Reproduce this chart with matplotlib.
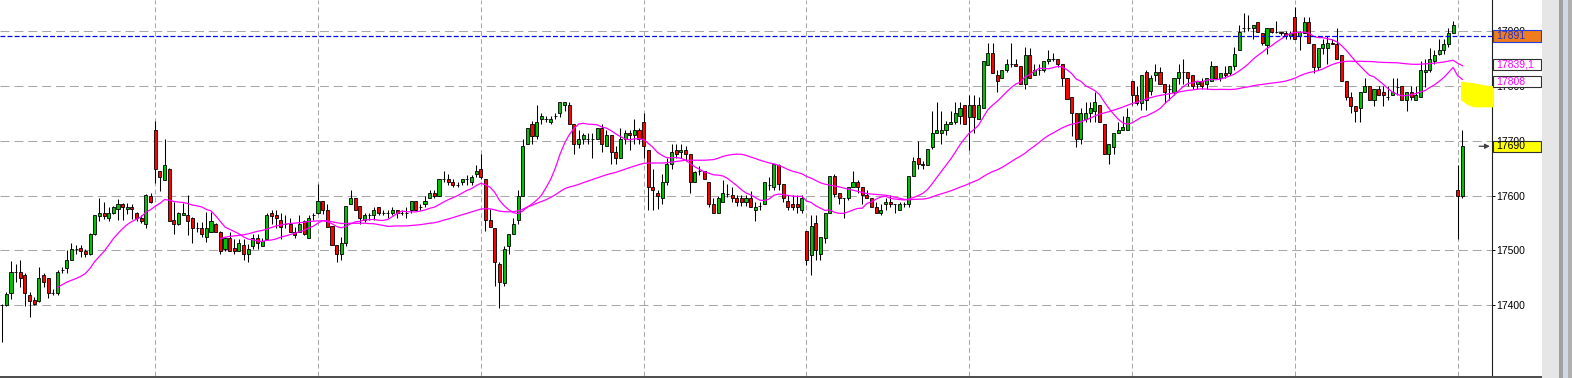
import numpy as np
import pandas as pd
import matplotlib
matplotlib.use("Agg")
import matplotlib.pyplot as plt
import matplotlib.transforms as mtransforms
from matplotlib.patches import Rectangle, Polygon

plt.rcParams['font.family'] = ['Liberation Sans', 'DejaVu Sans']
plt.rcParams['lines.scale_dashes'] = False

# OHLC candles (oldest first)
opens = [
    17400, 17400, 17423, 17460, 17460, 17455, 17419, 17409, 17408, 17455,
    17449, 17423, 17423, 17464, 17468, 17483, 17503, 17505, 17499, 17493,
    17529, 17563, 17569, 17560, 17569, 17575, 17584, 17575, 17579, 17569,
    17560, 17549, 17599, 17719, 17644, 17629, 17649, 17555, 17549, 17564,
    17564, 17560, 17540, 17540, 17524, 17534, 17549, 17534, 17503, 17523,
    17505, 17499, 17509, 17494, 17508, 17523, 17508, 17520, 17569, 17564,
    17555, 17548, 17549, 17534, 17534, 17554, 17523, 17564, 17569, 17590,
    17574, 17544, 17509, 17494, 17514, 17584, 17595, 17581, 17555, 17564,
    17564, 17579, 17569, 17569, 17569, 17574, 17569, 17569, 17574, 17590,
    17579, 17584, 17595, 17604, 17600, 17630, 17630, 17625, 17620, 17625,
    17630, 17625, 17639, 17649, 17630, 17555, 17540, 17475, 17440, 17508,
    17529, 17555, 17599, 17695, 17730, 17709, 17739, 17739, 17735, 17745,
    17750, 17765, 17765, 17730, 17695, 17704, 17704, 17704, 17704, 17724,
    17690, 17710, 17680, 17669, 17704, 17714, 17710, 17719, 17735, 17684,
    17615, 17604, 17595, 17625, 17658, 17684, 17680, 17684, 17675, 17624,
    17645, 17645, 17624, 17584, 17569, 17588, 17602, 17601, 17595, 17595,
    17588, 17595, 17574, 17581, 17584, 17620, 17616, 17655, 17621, 17590,
    17584, 17584, 17574, 17535, 17491, 17550, 17494, 17523, 17569, 17635,
    17605, 17595, 17595, 17615, 17624, 17615, 17601, 17595, 17579, 17569,
    17584, 17588, 17584, 17574, 17584, 17584, 17635, 17669, 17658, 17655,
    17689, 17715, 17715, 17719, 17730, 17735, 17745, 17765, 17744, 17765,
    17739, 17759, 17838, 17860, 17820, 17814, 17830, 17840, 17840, 17836,
    17804, 17856, 17820, 17830, 17830, 17845, 17850, 17850, 17840, 17815,
    17779, 17750, 17704, 17740, 17750, 17755, 17765, 17730, 17675, 17689,
    17714, 17719, 17719, 17810, 17784, 17769, 17825, 17790, 17820, 17826,
    17804, 17795, 17789, 17815, 17826, 17826, 17820, 17804, 17810, 17804,
    17810, 17836, 17815, 17824, 17824, 17836, 17865, 17905, 17905, 17905,
    17916, 17896, 17875, 17905, 17899, 17899, 17896, 17891, 17925, 17891,
    17896, 17916, 17876, 17835, 17870, 17870, 17879, 17876, 17856, 17810,
    17779, 17764, 17759, 17789, 17800, 17774, 17795, 17789, 17779, 17784,
    17799, 17800, 17774, 17789, 17774, 17779, 17826, 17830, 17845, 17859,
    17865, 17876, 17896, 17610, 17599,
]
highs = [
    17402, 17424, 17480, 17476, 17483, 17458, 17424, 17415, 17470, 17458,
    17450, 17430, 17464, 17470, 17500, 17513, 17509, 17510, 17503, 17531,
    17565, 17595, 17589, 17579, 17581, 17593, 17586, 17586, 17584, 17570,
    17564, 17602, 17604, 17736, 17645, 17704, 17650, 17589, 17570, 17586,
    17601, 17561, 17552, 17552, 17570, 17570, 17550, 17535, 17524, 17534,
    17520, 17520, 17520, 17512, 17529, 17529, 17523, 17569, 17574, 17574,
    17569, 17564, 17560, 17543, 17564, 17555, 17564, 17569, 17621, 17590,
    17584, 17544, 17509, 17525, 17581, 17610, 17595, 17581, 17569, 17569,
    17579, 17579, 17574, 17574, 17579, 17574, 17574, 17579, 17590, 17590,
    17584, 17599, 17610, 17610, 17630, 17645, 17639, 17630, 17625, 17630,
    17637, 17637, 17655, 17675, 17630, 17576, 17540, 17479, 17508, 17529,
    17560, 17610, 17704, 17724, 17737, 17765, 17751, 17745, 17745, 17751,
    17770, 17770, 17770, 17730, 17719, 17714, 17714, 17714, 17724, 17731,
    17719, 17710, 17690, 17724, 17719, 17719, 17739, 17724, 17751, 17684,
    17649, 17610, 17639, 17669, 17695, 17695, 17695, 17690, 17675, 17645,
    17654, 17645, 17624, 17595, 17600, 17629, 17622, 17616, 17601, 17601,
    17601, 17608, 17588, 17588, 17624, 17634, 17658, 17658, 17621, 17601,
    17601, 17601, 17601, 17535, 17564, 17564, 17525, 17569, 17635, 17640,
    17605, 17595, 17615, 17645, 17628, 17615, 17610, 17595, 17588, 17584,
    17595, 17601, 17584, 17588, 17588, 17635, 17670, 17699, 17663, 17685,
    17754, 17771, 17754, 17737, 17754, 17771, 17771, 17765, 17784, 17784,
    17780, 17845, 17879, 17879, 17830, 17830, 17850, 17879, 17850, 17836,
    17871, 17870, 17840, 17840, 17845, 17865, 17860, 17850, 17840, 17815,
    17779, 17750, 17760, 17771, 17771, 17789, 17765, 17730, 17695, 17715,
    17734, 17745, 17759, 17810, 17800, 17820, 17830, 17820, 17840, 17835,
    17804, 17804, 17815, 17840, 17850, 17826, 17820, 17810, 17815, 17815,
    17845, 17836, 17824, 17836, 17836, 17871, 17911, 17934, 17930, 17911,
    17916, 17896, 17905, 17905, 17919, 17899, 17900, 17900, 17945, 17900,
    17925, 17925, 17876, 17870, 17885, 17891, 17885, 17905, 17856, 17810,
    17789, 17764, 17789, 17815, 17800, 17795, 17800, 17800, 17800, 17815,
    17815, 17800, 17789, 17800, 17800, 17845, 17850, 17870, 17865, 17885,
    17885, 17905, 17919, 17655, 17719,
]
lows = [
    17333, 17398, 17412, 17443, 17433, 17399, 17379, 17400, 17405, 17433,
    17414, 17419, 17418, 17458, 17459, 17482, 17493, 17488, 17488, 17491,
    17528, 17554, 17557, 17554, 17567, 17555, 17555, 17567, 17557, 17554,
    17550, 17540, 17587, 17623, 17609, 17628, 17553, 17530, 17546, 17564,
    17528, 17514, 17534, 17525, 17516, 17533, 17533, 17493, 17499, 17498,
    17493, 17499, 17482, 17479, 17503, 17503, 17508, 17520, 17549, 17540,
    17520, 17540, 17534, 17523, 17534, 17528, 17523, 17555, 17567, 17567,
    17543, 17509, 17479, 17482, 17508, 17584, 17574, 17549, 17552, 17555,
    17555, 17564, 17564, 17560, 17564, 17560, 17564, 17560, 17569, 17574,
    17574, 17579, 17595, 17595, 17600, 17625, 17620, 17616, 17615, 17620,
    17620, 17620, 17634, 17630, 17536, 17543, 17435, 17394, 17435, 17494,
    17529, 17549, 17599, 17695, 17695, 17704, 17731, 17734, 17730, 17739,
    17744, 17754, 17730, 17675, 17686, 17695, 17695, 17669, 17704, 17680,
    17690, 17658, 17658, 17669, 17695, 17684, 17695, 17695, 17669, 17574,
    17574, 17576, 17585, 17620, 17649, 17669, 17669, 17664, 17604, 17624,
    17637, 17630, 17580, 17569, 17569, 17588, 17598, 17588, 17581, 17581,
    17581, 17579, 17554, 17574, 17584, 17610, 17610, 17610, 17588, 17574,
    17574, 17569, 17569, 17473, 17455, 17482, 17482, 17514, 17569, 17598,
    17584, 17560, 17592, 17615, 17604, 17584, 17595, 17579, 17569, 17564,
    17574, 17579, 17569, 17574, 17579, 17579, 17635, 17649, 17649, 17655,
    17685, 17715, 17695, 17710, 17730, 17730, 17730, 17730, 17684, 17714,
    17739, 17759, 17838, 17824, 17789, 17814, 17826, 17835, 17836, 17804,
    17795, 17814, 17820, 17820, 17826, 17840, 17845, 17835, 17800, 17776,
    17708, 17689, 17694, 17735, 17735, 17735, 17735, 17675, 17658, 17675,
    17714, 17719, 17719, 17765, 17765, 17756, 17756, 17784, 17810, 17804,
    17769, 17774, 17784, 17804, 17804, 17800, 17795, 17795, 17795, 17795,
    17810, 17815, 17810, 17815, 17820, 17829, 17865, 17899, 17900, 17885,
    17899, 17874, 17859, 17896, 17896, 17893, 17885, 17885, 17885, 17865,
    17896, 17879, 17824, 17830, 17859, 17840, 17876, 17850, 17810, 17774,
    17750, 17735, 17735, 17789, 17774, 17764, 17784, 17764, 17774, 17784,
    17784, 17774, 17755, 17774, 17774, 17779, 17798, 17826, 17840, 17856,
    17859, 17871, 17896, 17520, 17595,
]
closes = [
    17400, 17420, 17460, 17460, 17449, 17423, 17408, 17403, 17449, 17443,
    17423, 17423, 17460, 17464, 17483, 17503, 17503, 17499, 17493, 17530,
    17564, 17569, 17563, 17569, 17579, 17584, 17579, 17579, 17575, 17560,
    17554, 17601, 17588, 17649, 17634, 17655, 17554, 17549, 17569, 17569,
    17554, 17540, 17540, 17529, 17540, 17554, 17534, 17499, 17523, 17499,
    17499, 17514, 17494, 17503, 17523, 17514, 17517, 17564, 17563, 17560,
    17543, 17548, 17534, 17528, 17548, 17530, 17560, 17565, 17590, 17574,
    17543, 17509, 17494, 17514, 17581, 17595, 17574, 17560, 17564, 17564,
    17574, 17569, 17569, 17569, 17574, 17569, 17569, 17569, 17590, 17574,
    17579, 17590, 17604, 17600, 17630, 17630, 17625, 17620, 17620, 17630,
    17630, 17634, 17645, 17634, 17555, 17543, 17479, 17443, 17503, 17529,
    17549, 17599, 17690, 17724, 17709, 17735, 17745, 17739, 17739, 17745,
    17770, 17770, 17730, 17695, 17704, 17710, 17704, 17704, 17724, 17695,
    17710, 17680, 17669, 17704, 17714, 17710, 17719, 17704, 17690, 17615,
    17610, 17600, 17625, 17658, 17680, 17675, 17684, 17675, 17624, 17643,
    17645, 17630, 17584, 17569, 17595, 17604, 17602, 17595, 17588, 17588,
    17595, 17579, 17580, 17581, 17624, 17620, 17658, 17621, 17595, 17579,
    17579, 17579, 17595, 17482, 17544, 17500, 17525, 17569, 17635, 17602,
    17595, 17595, 17615, 17624, 17615, 17601, 17595, 17579, 17569, 17574,
    17588, 17584, 17584, 17584, 17584, 17635, 17663, 17658, 17655, 17685,
    17715, 17719, 17719, 17730, 17735, 17750, 17759, 17730, 17765, 17744,
    17765, 17845, 17860, 17824, 17809, 17830, 17840, 17840, 17836, 17804,
    17856, 17814, 17830, 17830, 17845, 17850, 17850, 17840, 17815, 17776,
    17750, 17704, 17750, 17750, 17759, 17771, 17735, 17675, 17695, 17715,
    17719, 17725, 17744, 17784, 17769, 17820, 17774, 17815, 17826, 17804,
    17789, 17795, 17815, 17826, 17826, 17815, 17800, 17810, 17800, 17815,
    17836, 17815, 17824, 17820, 17836, 17859, 17899, 17905, 17905, 17911,
    17899, 17879, 17905, 17899, 17899, 17896, 17891, 17896, 17885, 17899,
    17916, 17879, 17835, 17870, 17876, 17879, 17876, 17850, 17810, 17779,
    17764, 17755, 17789, 17800, 17774, 17795, 17784, 17784, 17779, 17789,
    17799, 17774, 17789, 17780, 17784, 17830, 17830, 17850, 17856, 17865,
    17876, 17896, 17911, 17599, 17690,
]

short_period = 13
long_period = 48
session_starts = [33, 68, 103, 138, 173, 208, 243, 278, 313]   # vertical grid
price_ticks = [17400, 17500, 17600, 17700, 17800, 17900]
ref_level = 17891
marker_values = [17891, 17839.1, 17808, 17690]
marker_texts = ["17891", "17839,1", "17808", "17690"]
marker_faces = ['#f07c20', 'white', 'white', '#ffff00']
marker_edges = ['#2040e0', '#303030', '#303030', '#303030']
marker_text_colors = ['#2030c8', '#ff00ff', '#ff00ff', 'black']
# yellow highlight next to the price axis (bar index, price)
highlight_shape = [(313.7, 17808), (316.5, 17805), (319.6, 17800), (320.8, 17800),
                   (320.8, 17761), (316.5, 17761), (315.2, 17765), (313.7, 17774)]

W, H = 1572, 378
fig = plt.figure(figsize=(W / 100, H / 100), dpi=100)
ax = fig.add_axes([0, 2 / H, 1491.7 / W, 376 / H])

o = np.array(opens, float)
h = np.array(highs, float)
l = np.array(lows, float)
c = np.array(closes, float)
x = np.arange(len(c))

# candles
ax.vlines(x, l, h, colors='black', linewidth=0.75, zorder=3)
for i in x:
    up = c[i] >= o[i]
    ax.add_patch(Rectangle((i - 0.33, min(o[i], c[i])), 0.66, abs(c[i] - o[i]),
                           facecolor='#00c000' if up else '#ff0000',
                           edgecolor='black', linewidth=0.6, zorder=4))

# moving averages
cs = pd.Series(c)
ax.plot(x, cs.rolling(short_period).mean(), color='#ff00ff', lw=0.9, zorder=5)
ax.plot(x, cs.rolling(long_period).mean(), color='#ff00ff', lw=0.9, zorder=5)

ax.axhline(ref_level, color='#0000ff', lw=0.9, linestyle=(0, (3.5, 1.6)), zorder=6)

ax.add_patch(Polygon(highlight_shape, closed=True, facecolor='#ffff00',
                     edgecolor='none', clip_on=False, zorder=7))
ax.annotate('', xy=(319.9, marker_values[3]), xytext=(317.6, marker_values[3]),
            arrowprops=dict(arrowstyle='-|>', color='#404040', lw=0.9,
                            mutation_scale=7, shrinkA=0, shrinkB=0),
            annotation_clip=False, zorder=8)

ax.set_xlim(-0.365, 320.3)
ax.set_ylim(17270.8, 17956.9)
ax.set_yticks(price_ticks)
ax.set_yticklabels([str(v) for v in price_ticks])
ax.set_xticks(session_starts)
ax.set_xticklabels([])
ax.tick_params(axis='x', length=0)
ax.yaxis.tick_right()
ax.tick_params(axis='y', direction='out', length=2.5, width=0.7, pad=1,
               labelsize=7.5, colors='black')
ax.set_axisbelow(True)
ax.grid(axis='y', color='#a8a8a8', linestyle=(0, (6.5, 3.5)), lw=0.75)
ax.grid(axis='x', color='#a8a8a8', linestyle=(0, (3.5, 2.2)), lw=0.75)
for s in ['left', 'top', 'bottom']:
    ax.spines[s].set_visible(False)
ax.spines['right'].set_color('#202020')
ax.spines['right'].set_linewidth(0.8)

# value boxes on the price axis
trans = mtransforms.blended_transform_factory(fig.transFigure, ax.transData)
box_h = 11.5 / (376 / (17956.9 - 17270.8))
for val, txt, fc, ec, tc in zip(marker_values, marker_texts, marker_faces,
                                marker_edges, marker_text_colors):
    ax.add_patch(Rectangle((1493 / W, val - box_h / 2), 48 / W, box_h, transform=trans,
                           facecolor=fc, edgecolor=ec, lw=0.8, clip_on=False, zorder=10))
    ax.text(1496 / W, val, txt, transform=trans, color=tc, fontsize=7.5,
            va='center', ha='left', clip_on=False, zorder=11)

# window chrome: bottom border and scrollbar strip
fig.add_artist(Rectangle((0, 0), 1541.7 / W, 2.5 / H, transform=fig.transFigure,
                         facecolor='#505050', edgecolor='none'))
fig.add_artist(Rectangle((1541.7 / W, 0), 17.6 / W, 1, transform=fig.transFigure,
                         facecolor='#e6e6e6', edgecolor='none'))
fig.add_artist(Rectangle((1559.3 / W, 0), 3.4 / W, 1, transform=fig.transFigure,
                         facecolor='#a0a0a0', edgecolor='none'))
fig.add_artist(Rectangle((1562.7 / W, 0), 5.6 / W, 1, transform=fig.transFigure,
                         facecolor='#d0d8e6', edgecolor='none'))
fig.add_artist(Rectangle((1568.3 / W, 0), 3.7 / W, 1, transform=fig.transFigure,
                         facecolor='#b0b0b0', edgecolor='none'))

fig.savefig('out.png', dpi=100)
